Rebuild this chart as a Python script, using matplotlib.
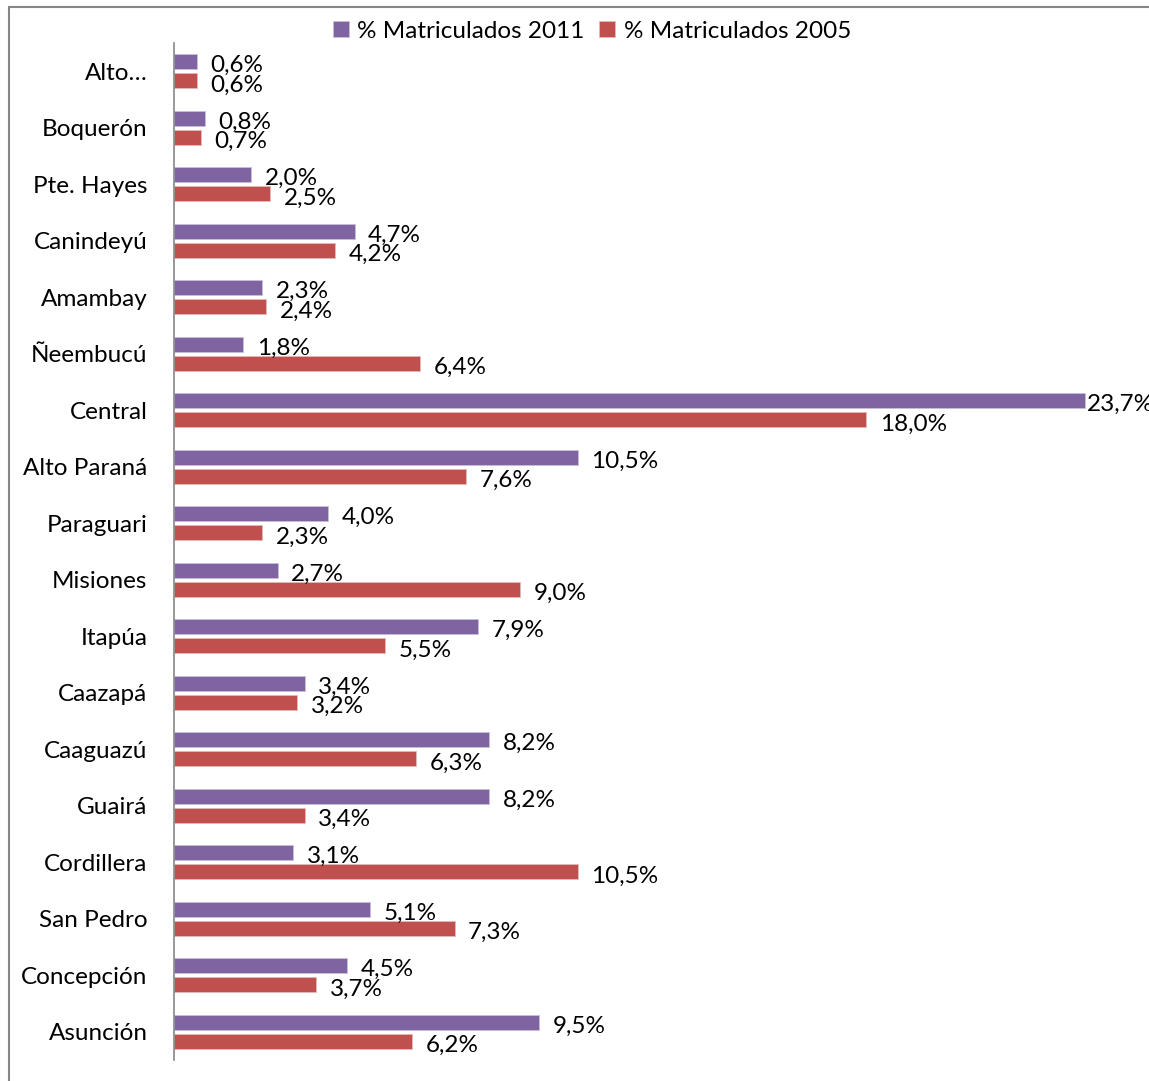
import matplotlib.pyplot as plt
from matplotlib.patches import Rectangle
import numpy as np

plt.rcParams['font.family'] = ['Lato', 'DejaVu Sans']

departamentos = ["Alto…", "Boquerón", "Pte. Hayes", "Canindeyú", "Amambay",
                 "Ñeembucú", "Central", "Alto Paraná", "Paraguari", "Misiones",
                 "Itapúa", "Caazapá", "Caaguazú", "Guairá", "Cordillera",
                 "San Pedro", "Concepción", "Asunción"]
mat_2011 = [0.6, 0.8, 2.0, 4.7, 2.3, 1.8, 23.7, 10.5, 4.0, 2.7,
            7.9, 3.4, 8.2, 8.2, 3.1, 5.1, 4.5, 9.5]
mat_2005 = [0.6, 0.7, 2.5, 4.2, 2.4, 6.4, 18.0, 7.6, 2.3, 9.0,
            5.5, 3.2, 6.3, 3.4, 10.5, 7.3, 3.7, 6.2]

PURPLE = "#8064A2"
RED = "#C0504D"
W, H = 1149, 1081
FS = 17.5

fig = plt.figure(figsize=(W / 100, H / 100), dpi=100)
ax = fig.add_axes([174 / W, 1 - 1060 / H, (W - 174) / W, (1060 - 43) / H])

y = np.arange(len(departamentos))
h = 0.27
off = 0.17
ax.barh(y - off, mat_2011, height=h, color=PURPLE, edgecolor="#c9bfd9",
        linewidth=0.6, label="% Matriculados 2011")
ax.barh(y + off, mat_2005, height=h, color=RED, edgecolor="#e3b9b8",
        linewidth=0.6, label="% Matriculados 2005")

# data labels just past the bar end; the longest one is pushed against the edge
vmax = max(mat_2011 + mat_2005)
for yy, vals in ((y - off, mat_2011), (y + off, mat_2005)):
    for yi, v in zip(yy, vals):
        dx = 2 if v == vmax else 13.5
        ax.annotate(f"{v:.1f}%".replace(".", ","), (v, yi),
                    xytext=(dx * 0.72, -3), textcoords="offset points",
                    ha="left", va="center", fontsize=FS)

ax.set_ylim(len(departamentos) - 0.5, -0.5)
ax.set_xlim(0, (W - 174) / 38.45)
ax.set_yticks(y)
ax.set_yticklabels(departamentos, fontsize=FS)
ax.tick_params(axis="y", length=0, pad=19)
ax.set_xticks([])
for s in ("top", "right", "bottom"):
    ax.spines[s].set_visible(False)
ax.spines["left"].set_color("#868686")
ax.spines["left"].set_linewidth(1.2)

fig.legend(loc="center", bbox_to_anchor=(592 / W, 1 - 31 / H), ncol=2,
           frameon=False, fontsize=FS, handlelength=0.65, handleheight=0.65,
           handletextpad=0.35, columnspacing=0.6)

# chart frame (the reference is a crop, so only top and left edges show)
fig.patches.append(Rectangle((9 / W, -0.05), 1.2, 1.05 - 7 / H,
                             transform=fig.transFigure, fill=False,
                             edgecolor="#868686", linewidth=1.5))

fig.savefig("out.png", dpi=100)
